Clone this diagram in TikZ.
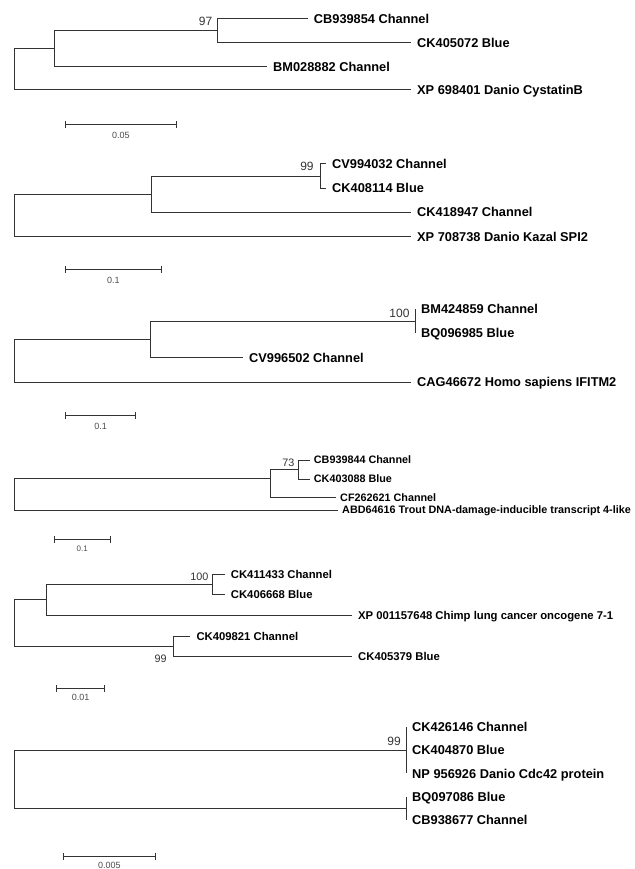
\documentclass[tikz,border=0pt]{standalone}
\usepackage{fontspec}
\setmainfont{Liberation Sans}
\usetikzlibrary{arrows.meta}

\begin{document}
\begin{tikzpicture}[
    x=1pt, y=-1pt,
    % Tree styles (branches, taxa, bootstrap values, scale bars)
    branch/.style={line width=1pt, draw=black!80},
    leaf/.style={anchor=west, text=black, font=\bfseries\fontsize{12.8}{14}\selectfont, inner xsep=6pt, inner ysep=0pt, text height=9.2pt, text depth=0pt},
    leafsm/.style={leaf, font=\bfseries\fontsize{11.3}{13}\selectfont, text height=8.1pt},
    leafxs/.style={leaf, font=\bfseries\fontsize{10.8}{12}\selectfont, text height=7.7pt, inner xsep=4pt},
    boot/.style={anchor=east, text=black!80, font=\fontsize{12}{14}\selectfont, inner sep=0pt, text height=8.6pt, text depth=0pt},
    bootsm/.style={boot, font=\fontsize{10.8}{12}\selectfont, text height=7.8pt},
    scalebar/.style={line width=1pt, draw=black!80, {Bar[width=7pt]}-{Bar[width=7pt]}},
    scalelbl/.style={text=black!70, font=\fontsize{9}{10}\selectfont, inner sep=0pt}
]
\useasboundingbox (0,0) rectangle (634,869);

% ---------------------------------------------------------
% 1. CYSTATIN B TREE
% ---------------------------------------------------------
\coordinate (cysroot) at (14.3, 69.3);
\coordinate (cysn1) at (54.5, 48.6);
\coordinate (cys97) at (217.4, 30.75);

\node[leaf] (CB939854) at (307.7, 19) {CB939854 Channel};
\node[leaf] (CK405072) at (411, 42.5) {CK405072 Blue};
\node[leaf] (BM028882) at (267, 66.5) {BM028882 Channel};
\node[leaf] (XP698401) at (411, 90) {XP 698401 Danio CystatinB};

\draw[branch] (cys97) |- (CB939854.west);
\draw[branch] (cys97) |- (CK405072.west);
\draw[branch] (cysn1) |- (cys97);
\draw[branch] (cysn1) |- (BM028882.west);
\draw[branch] (cysroot) |- (cysn1);
\draw[branch] (cysroot) |- (XP698401.west);
\node[boot] (cysb97) at (212.5, 21.7) {97};

% scale
\coordinate (cyss1) at (64.8, 125);
\coordinate (cyss2) at (177, 125);
\draw[scalebar] (cyss1) -- (cyss2);
\node[scalelbl] (cysscale) at (120.9, 135) {0.05};

% ---------------------------------------------------------
% 2. KAZAL SPI2 TREE
% ---------------------------------------------------------
\coordinate (kazroot) at (14.3, 215.45);
\coordinate (kazn1) at (151, 194.2);
\coordinate (kaz99) at (320, 176.2);

\node[leaf] (CV994032) at (326, 164) {CV994032 Channel};
\node[leaf] (CK408114) at (326, 188.3) {CK408114 Blue};
\node[leaf] (CK418947) at (411, 212.3) {CK418947 Channel};
\node[leaf] (XP708738) at (411, 236.7) {XP 708738 Danio Kazal SPI2};

\draw[branch] (kaz99) |- (CV994032.west);
\draw[branch] (kaz99) |- (CK408114.west);
\draw[branch] (kazn1) |- (kaz99);
\draw[branch] (kazn1) |- (CK418947.west);
\draw[branch] (kazroot) |- (kazn1);
\draw[branch] (kazroot) |- (XP708738.west);
\node[boot] (kazb99) at (313.8, 166.7) {99};

% scale
\coordinate (kazs1) at (64.8, 269);
\coordinate (kazs2) at (162, 269);
\draw[scalebar] (kazs1) -- (kazs2);
\node[scalelbl] (kazscale) at (113.4, 280) {0.1};

% ---------------------------------------------------------
% 3. IFITM2 TREE
% ---------------------------------------------------------
\coordinate (ifiroot) at (14.3, 360.85);
\coordinate (ifin1) at (150.6, 339.4);
\coordinate (ifi100) at (415, 321.2);

\node[leaf] (BM424859) at (415, 309) {BM424859 Channel};
\node[leaf] (BQ096985) at (415, 333.3) {BQ096985 Blue};
\node[leaf] (CV996502) at (243, 357.7) {CV996502 Channel};
\node[leaf] (CAG46672) at (411, 382.3) {CAG46672 Homo sapiens IFITM2};

\draw[branch] (ifi100) |- (BM424859.west);
\draw[branch] (ifi100) |- (BQ096985.west);
\draw[branch] (ifin1) |- (ifi100);
\draw[branch] (ifin1) |- (CV996502.west);
\draw[branch] (ifiroot) |- (ifin1);
\draw[branch] (ifiroot) |- (CAG46672.west);
\node[boot] (ifib100) at (409.7, 313.3) {100};

% scale
\coordinate (ifis1) at (64.8, 415.7);
\coordinate (ifis2) at (136.4, 415.7);
\draw[scalebar] (ifis1) -- (ifis2);
\node[scalelbl] (ifiscale) at (100.6, 426.7) {0.1};

% ---------------------------------------------------------
% 4. DNA-DAMAGE-INDUCIBLE TREE
% ---------------------------------------------------------
\coordinate (ddiroot) at (14.2, 494.25);
\coordinate (ddin1) at (270.4, 478.5);
\coordinate (ddi73) at (298.8, 469.5);

\node[leafxs] (CB939844) at (309.7, 460) {CB939844 Channel};
\node[leafxs] (CK403088) at (309.7, 479) {CK403088 Blue};
\node[leafxs] (CF262621) at (336, 497.5) {CF262621 Channel};
\node[leafxs] (ABD64616) at (338, 510) {ABD64616 Trout DNA-damage-inducible transcript 4-like};

\draw[branch] (ddi73) |- (CB939844.west);
\draw[branch] (ddi73) |- (CK403088.west);
\draw[branch] (ddin1) |- (ddi73);
\draw[branch] (ddin1) |- (CF262621.west);
\draw[branch] (ddiroot) |- (ddin1);
\draw[branch] (ddiroot) |- (ABD64616.west);
\node[bootsm] (ddib73) at (294.7, 463) {73};

% scale
\coordinate (ddis1) at (53.8, 539.3);
\coordinate (ddis2) at (110.5, 539.3);
\draw[scalebar] (ddis1) -- (ddis2);
\node[scalelbl, font=\fontsize{8}{9}\selectfont] (ddiscale) at (82.2, 548.3) {0.1};

% ---------------------------------------------------------
% 5. LUNG CANCER ONCOGENE TREE
% ---------------------------------------------------------
\coordinate (oncroot) at (14.2, 623.15);
\coordinate (oncn1) at (46.6, 599.9);
\coordinate (onc100) at (212.6, 584.3);
\coordinate (onc99) at (173.3, 646.4);

\node[leafsm] (CK411433) at (224.7, 574) {CK411433 Channel};
\node[leafsm] (CK406668) at (224.7, 594.7) {CK406668 Blue};
\node[leafsm] (XP001157648) at (352, 615.4) {XP 001157648 Chimp lung cancer oncogene 7-1};
\node[leafsm] (CK409821) at (190.3, 636) {CK409821 Channel};
\node[leafsm] (CK405379) at (352, 656.7) {CK405379 Blue};

\draw[branch] (onc100) |- (CK411433.west);
\draw[branch] (onc100) |- (CK406668.west);
\draw[branch] (oncn1) |- (onc100);
\draw[branch] (oncn1) |- (XP001157648.west);
\draw[branch] (onc99) |- (CK409821.west);
\draw[branch] (onc99) |- (CK405379.west);
\draw[branch] (oncroot) |- (oncn1);
\draw[branch] (oncroot) |- (onc99);
\node[bootsm] (oncb100) at (208.5, 576.3) {100};
\node[bootsm] (oncb99) at (166.8, 658.3) {99};

% scale
\coordinate (oncs1) at (55.9, 688.3);
\coordinate (oncs2) at (105.3, 688.3);
\draw[scalebar] (oncs1) -- (oncs2);
\node[scalelbl] (oncscale) at (80.6, 697.7) {0.01};

% ---------------------------------------------------------
% 6. CDC42 TREE
% ---------------------------------------------------------
\coordinate (cdcroot) at (14.2, 779.2);
\coordinate (cdc99) at (406, 750.2);
\coordinate (cdcn2) at (406, 808.2);

\node[leaf] (CK426146) at (406, 727) {CK426146 Channel};
\node[leaf] (CK404870) at (406, 750.2) {CK404870 Blue};
\node[leaf] (NP956926) at (406, 773.4) {NP 956926 Danio Cdc42 protein};
\node[leaf] (BQ097086) at (406, 796.6) {BQ097086 Blue};
\node[leaf] (CB938677) at (406, 819.8) {CB938677 Channel};

\draw[branch] (cdc99) |- (CK426146.west);
\draw[branch] (cdc99) |- (CK404870.west);
\draw[branch] (cdc99) |- (NP956926.west);
\draw[branch] (cdcn2) |- (BQ097086.west);
\draw[branch] (cdcn2) |- (CB938677.west);
\draw[branch] (cdcroot) |- (cdc99);
\draw[branch] (cdcroot) |- (cdcn2);
\node[boot] (cdcb99) at (401, 741.5) {99};

% scale
\coordinate (cdcs1) at (62.8, 856);
\coordinate (cdcs2) at (155.9, 856);
\draw[scalebar] (cdcs1) -- (cdcs2);
\node[scalelbl] (cdcscale) at (109.35, 865.5) {0.005};

\end{tikzpicture}
\end{document}
